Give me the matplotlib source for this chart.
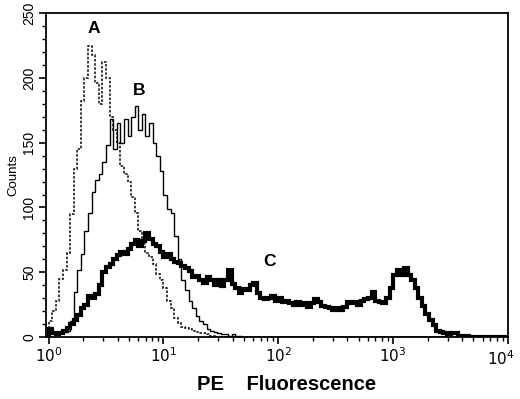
import numpy as np
import matplotlib
matplotlib.use("Agg")
import matplotlib.pyplot as plt
from matplotlib.ticker import LogLocator, NullFormatter, MultipleLocator

plt.rcParams['font.family'] = ['Liberation Sans', 'DejaVu Sans']

# 128 channels across 4 decades (32 per decade)
channels_per_decade = 32
n_channels = 128

curve_a = [12, 20, 28, 45, 52, 65, 95, 130, 145, 182, 200, 225, 218, 196, 180, 212,
           200, 170, 160, 150, 132, 126, 120, 108, 96, 82, 72, 65, 62, 56, 49, 44,
           38, 28, 22, 15, 11, 8, 7, 6, 5, 4, 3, 3, 2, 1, 1]
curve_b = [8, 4, 2, 3, 4, 5, 12, 35, 52, 64, 82, 96, 112, 121, 126, 135,
           148, 168, 145, 165, 150, 168, 155, 170, 178, 160, 172, 155, 165, 150, 140, 128,
           110, 99, 96, 78, 60, 44, 36, 28, 22, 16, 12, 10, 6, 5, 4, 3,
           2, 2, 1, 2, 1, 1]
curve_c = [6, 3, 2, 3, 5, 7, 10, 13, 17, 22, 25, 32, 30, 33, 40, 50,
           54, 56, 60, 63, 66, 64, 68, 72, 75, 70, 74, 80, 76, 72, 70, 66,
           62, 64, 60, 58, 57, 55, 53, 51, 46, 47, 44, 42, 46, 44, 40, 44,
           39, 44, 52, 41, 38, 34, 37, 36, 40, 42, 34, 30, 29, 30, 32, 28,
           30, 27, 28, 26, 25, 27, 25, 26, 23, 26, 29, 27, 24, 23, 22, 21,
           22, 21, 23, 27, 26, 27, 25, 28, 29, 30, 35, 28, 27, 26, 30, 38,
           48, 52, 48, 53, 48, 44, 38, 30, 24, 18, 13, 9, 5, 4, 3, 2,
           3, 3, 1, 1, 1]

labels = ["A", "B", "C"]
label_pos_x = [2.5, 6.2, 84]
label_pos_y = [238, 190, 58]

x_ticks = [1, 10, 100, 1000, 10000]
x_tick_labels = [r'$10^{0}$', r'$10^{1}$', r'$10^{2}$', r'$10^{3}$', r'$10^{4}$']
y_ticks = [0, 50, 100, 150, 200, 250]


def pad(v):
    return np.array(list(v) + [0] * (n_channels - len(v)), dtype=float)


edges = 10 ** (np.arange(n_channels + 1) / channels_per_decade)

fig = plt.figure(figsize=(5.2, 3.99), dpi=100)
ax = fig.add_axes([0.0885, 0.1554, 0.977 - 0.0885, 0.967 - 0.1554])

ax.stairs(pad(curve_a), edges, color='#1a1a1a', linewidth=1.2, linestyle=(0, (1.5, 1)))
ax.stairs(pad(curve_b), edges, color='black', linewidth=1.0)
ax.stairs(pad(curve_c), edges, color='black', linewidth=3.0)

ax.set_xscale('log')
ax.set_xlim(0.95, 1e4)
ax.set_ylim(0, 250)

ax.xaxis.set_minor_locator(LogLocator(base=10, subs=np.arange(2, 10), numticks=10))
ax.xaxis.set_minor_formatter(NullFormatter())
ax.set_xticks(x_ticks)
# the last label is drawn separately, nudged left so it stays inside the figure
ax.set_xticklabels(x_tick_labels[:-1] + [''], fontsize=11)
ax.annotate(x_tick_labels[-1], xy=(x_ticks[-1], 0), xycoords=('data', 'axes fraction'),
            xytext=(-5, -8.5), textcoords='offset points', ha='center', va='top', fontsize=11)

ax.set_yticks(y_ticks)
ax.set_yticklabels([str(t) for t in y_ticks], rotation=90, va='center', fontsize=10)
ax.yaxis.set_minor_locator(MultipleLocator(10))

ax.tick_params(axis='x', which='major', direction='out', length=5, width=1.2, pad=2)
ax.tick_params(axis='x', which='minor', direction='out', length=3, width=1.0)
ax.tick_params(axis='y', which='major', direction='out', length=5, width=1.2, pad=2)
ax.tick_params(axis='y', which='minor', direction='out', length=3, width=1.0)

for s in ax.spines.values():
    s.set_linewidth(1.3)

ax.set_ylabel('Counts', fontsize=9.5, labelpad=2)
fig.text(287 / 520, 1 - 385 / 399, 'PE    Fluorescence', fontsize=14.5, fontweight='bold',
         ha='center', va='center')

for lab, lx, ly in zip(labels, label_pos_x, label_pos_y):
    ax.text(lx, ly, lab, fontsize=12.5, fontweight='bold', ha='center', va='center')

fig.savefig('out.png', dpi=100)
